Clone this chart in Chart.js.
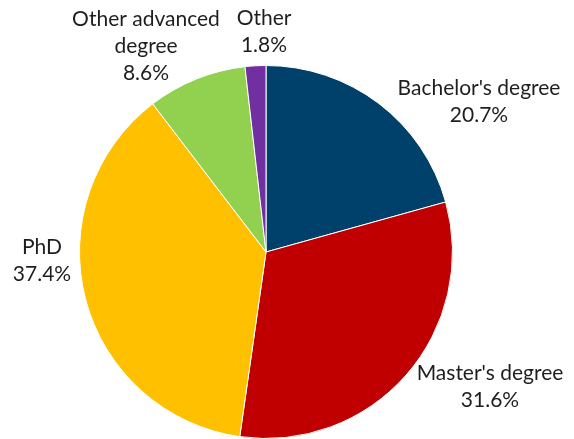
<!DOCTYPE html>
<html>
<head>
<meta charset="utf-8">
<script src="https://cdn.jsdelivr.net/npm/chart.js@4/dist/chart.umd.min.js"></script>
<style>
  html, body { margin: 0; padding: 0; background: #fff; }
  #wrap { width: 574px; height: 439px; }
</style>
</head>
<body>
<div id="wrap"><canvas id="pieChart" width="574" height="439"></canvas></div>
<script>
'use strict'

// degree categories and their shares (%)
const categories = [ 'Bachelor\'s degree', 'Master\'s degree', 'PhD', 'Other advanced degree', 'Other' ];
const shares = [ 20.7, 31.6, 37.4, 8.6, 1.8 ];
const sliceColors = [ '#00416b', '#c00000', '#ffc000', '#92d050', '#7030a0' ];

// label text lines, each slice gets its name broken up plus the value
const labelLines = [
  [ 'Bachelor\'s degree' ],
  [ 'Master\'s degree' ],
  [ 'PhD' ],
  [ 'Other advanced', 'degree' ],
  [ 'Other' ]
];

// where each label block is centred, relative to the pie centre
const labelOffsets = [ [ 213, -150 ], [ 224, 135 ], [ -224, 9 ], [ -120, -206 ], [ -2, -220 ] ];

const outsideLabels =
{
  id: 'outsideLabels',
  afterDatasetsDraw( chart )
  {
    const ctx = chart.ctx;
    const arc = chart.getDatasetMeta( 0 ).data[ 0 ];
    const lineH = 27;

    ctx.save();
    ctx.font = '21px Lato';
    ctx.fillStyle = '#1e1e1e';
    ctx.textAlign = 'center';
    ctx.textBaseline = 'middle';

    shares.forEach( ( v, i ) =>
    {
      const lines = labelLines[ i ].concat( v.toFixed( 1 ) + '%' );
      const cx = arc.x + labelOffsets[ i ][ 0 ];
      const cy = arc.y + labelOffsets[ i ][ 1 ];
      const top = cy - ( lines.length - 1 ) * lineH / 2;
      lines.forEach( ( t, k ) => ctx.fillText( t, cx, top + k * lineH ) );
    });

    ctx.restore();
  }
};

const pieCanvas = document.getElementById( 'pieChart' ).getContext( '2d' );

new Chart( pieCanvas,
{
  type: 'pie',
  data:
  {
    labels: categories,
    datasets:
    [
      {
        data: shares,
        backgroundColor: sliceColors,
        borderColor: '#ffffff',
        borderWidth: 1
      }
    ]
  },
  options:
  {
    responsive: false,
    animation: false,
    layout: { padding: { top: 65, bottom: 0, left: 79, right: 121 } },
    plugins:
    {
      legend: { display: false },
      tooltip: { enabled: false }
    }
  },
  plugins: [ outsideLabels ]
});
</script>
</body>
</html>
